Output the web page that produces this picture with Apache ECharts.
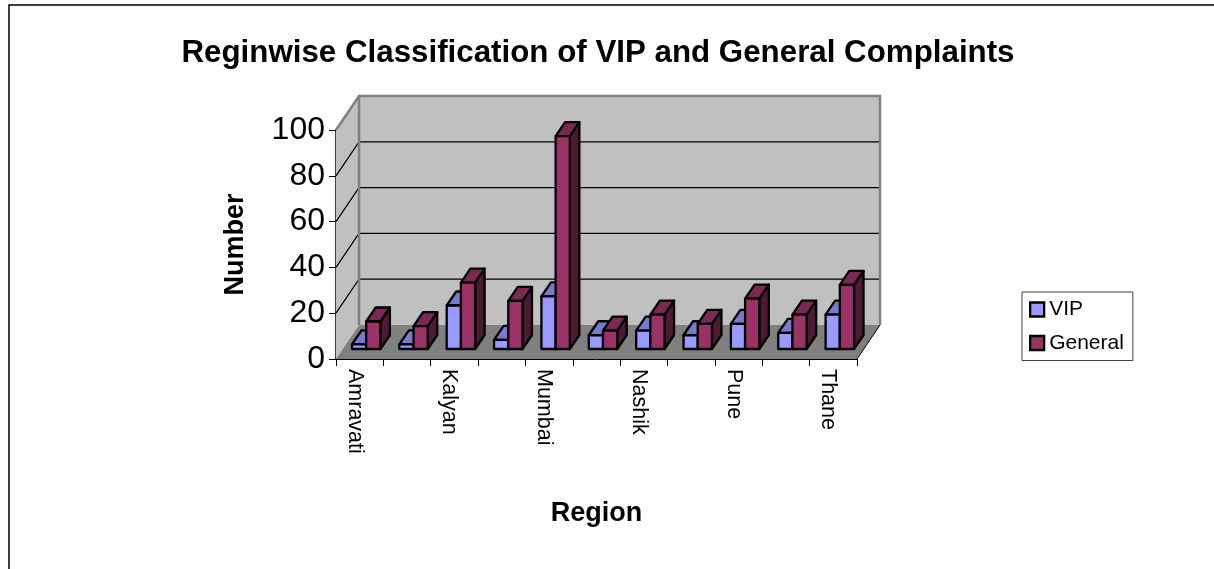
<!DOCTYPE html>
<html><head><meta charset="utf-8">
<style>html,body{margin:0;padding:0;background:#fff}#c{width:1214px;height:569px}</style>
<script src="https://cdn.jsdelivr.net/npm/echarts@6/dist/echarts.min.js"></script>
</head><body><div id="c"></div>
<script>
const categories = ['Amravati','','Kalyan','','Mumbai','','Nashik','','Pune','','Thane'];
const vipValues = [2,2,19,4,23,6,8,6,11,7,15];
const generalValues = [12,10,29,21,93,8,15,11,22,15,28];
const yTicks = [0,20,40,60,80,100];
const titleText = 'Reginwise Classification of VIP and General Complaints';

const DX = 23, DY = -34;          // wall depth
const BX = 9.5, BY = -14;         // bar depth
const FX = 6.5, FY = -10;         // bar front inset from axis plane
const FONT = '"Liberation Sans", Arial, sans-serif';

const chart = echarts.init(document.getElementById('c'), null, {renderer:'canvas'});

function wallItem(params, api){
  const c = params.coordSys;
  const l=c.x, r=c.x+c.width, t=c.y, b=c.y+c.height;
  const kids = [];
  kids.push({type:'polygon',shape:{points:[[l,t],[l+DX,t+DY],[l+DX,b+DY],[l,b]]},style:{fill:'#c0c0c0',stroke:'none'}});
  kids.push({type:'polygon',shape:{points:[[l+DX,t+DY],[r+DX,t+DY],[r+DX,b+DY],[l+DX,b+DY]]},style:{fill:'#c0c0c0',stroke:'none'}});
  kids.push({type:'polygon',shape:{points:[[l,b],[l+DX,b+DY],[r+DX,b+DY],[r,b]]},style:{fill:'#808080',stroke:'none'}});
  yTicks.forEach(v=>{
    if(v===0||v===100) return;
    const y = api.coord([0,v])[1];
    kids.push({type:'polyline',shape:{points:[[l,y],[l+DX,y+DY],[r+DX,y+DY]]},style:{fill:null,stroke:'#000',lineWidth:1.2}});
  });
  kids.push({type:'polyline',shape:{points:[[l,t],[l+DX,t+DY],[r+DX,t+DY],[r+DX,b+DY]]},style:{fill:null,stroke:'#808080',lineWidth:2.5}});
  kids.push({type:'polyline',shape:{points:[[l+DX,t+DY],[l+DX,b+DY]]},style:{fill:null,stroke:'#808080',lineWidth:2.5}});
  kids.push({type:'polyline',shape:{points:[[r,b],[r+DX,b+DY]]},style:{fill:null,stroke:'#000',lineWidth:1}});
  return {type:'group',children:kids};
}

function barRenderer(side, front, top, dark){
  return function(params, api){
    const i = api.value(0), v = api.value(1);
    const p = api.coord([i,v]), p0 = api.coord([i,0]);
    const w = api.size([1,0])[0]*0.3;
    const cx = p[0]+FX;
    const x0 = side===0 ? cx-w : cx, x1 = x0+w;
    const y0 = p0[1]+FY, y1 = p[1]+FY;
    const st = f=>({fill:f,stroke:'#000',lineWidth:2.3,lineJoin:'round'});
    return {type:'group',children:[
      {type:'polygon',shape:{points:[[x1,y0],[x1+BX,y0+BY],[x1+BX,y1+BY],[x1,y1]]},style:st(dark)},
      {type:'polygon',shape:{points:[[x0,y1],[x1,y1],[x1+BX,y1+BY],[x0+BX,y1+BY]]},style:st(top)},
      {type:'polygon',shape:{points:[[x0,y0],[x1,y0],[x1,y1],[x0,y1]]},style:st(front)}
    ]};
  };
}

chart.setOption({
  animation:false,
  backgroundColor:'#fff',
  title:{text:titleText,left:593,top:33,textAlign:'center',textStyle:{fontFamily:FONT,fontWeight:'bold',fontSize:31.3,color:'#000'}},
  legend:{
    orient:'vertical',left:1022,top:292,width:112,
    padding:[7,9,7,7],itemGap:12.5,itemWidth:14,itemHeight:14,
    borderColor:'#404040',borderWidth:1,backgroundColor:'#fff',
    textStyle:{fontFamily:FONT,fontSize:21,color:'#000',padding:[0,0,0,0]},
    data:[
      {name:'VIP',icon:'rect',itemStyle:{color:'#9999ff',borderColor:'#000',borderWidth:2.3}},
      {name:'General',icon:'rect',itemStyle:{color:'#993366',borderColor:'#000',borderWidth:2.3}}
    ]
  },
  grid:{left:336,top:130,width:521,height:229,containLabel:false},
  xAxis:{
    type:'category',data:categories,name:'Region',nameLocation:'middle',nameGap:141,
    nameTextStyle:{fontFamily:FONT,fontWeight:'bold',fontSize:27,color:'#000'},
    axisLine:{lineStyle:{color:'#000',width:1}},
    axisTick:{show:true,alignWithLabel:false,interval:0,length:7,lineStyle:{color:'#000'}},
    axisLabel:{interval:0,rotate:-90,fontFamily:FONT,fontSize:21.5,color:'#000',margin:10,verticalAlign:'top',lineHeight:10},
    splitLine:{show:false}
  },
  yAxis:{
    type:'value',min:0,max:100,interval:20,name:'Number',nameLocation:'middle',nameGap:87,nameRotate:90,
    nameTextStyle:{fontFamily:FONT,fontWeight:'bold',fontSize:27,color:'#000'},
    axisLine:{show:true,lineStyle:{color:'#000',width:1.5}},
    axisTick:{show:true,length:7,lineStyle:{color:'#000'}},
    axisLabel:{fontFamily:FONT,fontSize:32,color:'#000',margin:11},
    splitLine:{show:false}
  },
  series:[
    {type:'custom',name:'walls',silent:true,z:1,renderItem:wallItem,data:[[0,0]],legendHoverLink:false,clip:false},
    {type:'custom',name:'VIP',z:2,clip:false,color:'#9999ff',
     renderItem:barRenderer(0,'#9999ff','#7a7acc','#4d4d80'),
     encode:{x:0,y:1},data:vipValues.map((v,i)=>[i,v])},
    {type:'custom',name:'General',z:3,clip:false,color:'#993366',
     renderItem:barRenderer(1,'#993366','#7a2952','#4d1a33'),
     encode:{x:0,y:1},data:generalValues.map((v,i)=>[i,v])}
  ],
  graphic:[{type:'rect',silent:true,z:100,shape:{x:9,y:5,width:1300,height:700},style:{fill:null,stroke:'#000',lineWidth:1.5}}]
});
</script></body></html>
